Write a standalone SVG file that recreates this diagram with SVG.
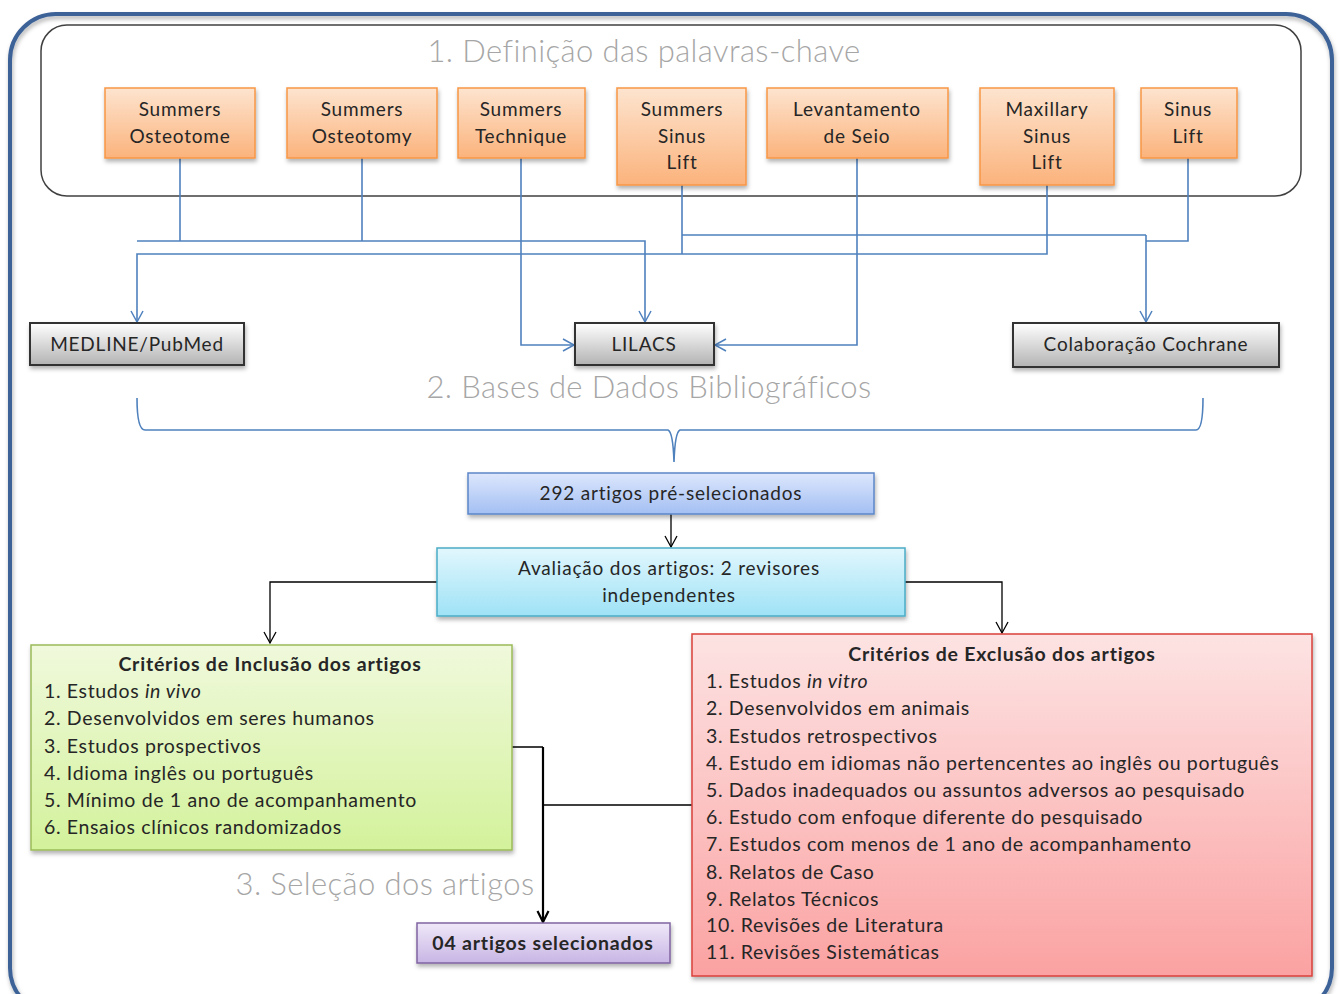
<svg xmlns="http://www.w3.org/2000/svg" width="1340" height="994" viewBox="0 0 1340 994">
<defs>
<linearGradient id="gOr" x1="0" y1="0" x2="0" y2="1"><stop offset="0" stop-color="#fde4cf"/><stop offset="1" stop-color="#fbb37c"/></linearGradient>
<linearGradient id="gGr" x1="0" y1="0" x2="0" y2="1"><stop offset="0" stop-color="#ffffff"/><stop offset="1" stop-color="#b3b3b3"/></linearGradient>
<linearGradient id="gBl" x1="0" y1="0" x2="0" y2="1"><stop offset="0" stop-color="#dde7fc"/><stop offset="1" stop-color="#a3bff3"/></linearGradient>
<linearGradient id="gCy" x1="0" y1="0" x2="0" y2="1"><stop offset="0" stop-color="#e2f7fd"/><stop offset="1" stop-color="#9ee2f6"/></linearGradient>
<linearGradient id="gGn" x1="0" y1="0" x2="0" y2="1"><stop offset="0" stop-color="#f0f9dc"/><stop offset="1" stop-color="#d3f29b"/></linearGradient>
<linearGradient id="gRd" x1="0" y1="0" x2="0" y2="1"><stop offset="0" stop-color="#fde3e3"/><stop offset="1" stop-color="#fba2a2"/></linearGradient>
<linearGradient id="gPu" x1="0" y1="0" x2="0" y2="1"><stop offset="0" stop-color="#efe8f8"/><stop offset="1" stop-color="#c8b5e4"/></linearGradient>
<filter id="sh" x="-10%" y="-10%" width="130%" height="140%"><feDropShadow dx="1" dy="3" stdDeviation="2" flood-color="#000" flood-opacity="0.3"/></filter>
<marker id="aB" markerWidth="14" markerHeight="14" refX="12" refY="7" orient="auto" markerUnits="userSpaceOnUse"><path d="M1,1 L12,7 L1,13" fill="none" stroke="#4f81bd" stroke-width="1.5"/></marker>
<marker id="aK" markerWidth="14" markerHeight="14" refX="12" refY="7" orient="auto" markerUnits="userSpaceOnUse"><path d="M1,1 L12,7 L1,13" fill="none" stroke="#000" stroke-width="1.3"/></marker>
<marker id="aKb" markerWidth="14" markerHeight="14" refX="12" refY="7" orient="auto" markerUnits="userSpaceOnUse"><path d="M1,1.5 L12,7 L1,12.5" fill="none" stroke="#000" stroke-width="2.2"/></marker>
</defs>
<style>
text{font-family:Lato,"Open Sans","Liberation Sans",sans-serif;fill:#262626}
.t{font-size:19px;text-anchor:middle;letter-spacing:0.8px}
.h{font-size:31px;fill:#a6a6a6;text-anchor:middle;font-weight:300;letter-spacing:0.4px}
.b{font-size:19.5px;letter-spacing:0.65px}
.bt{font-size:19.5px;font-weight:bold;text-anchor:middle;letter-spacing:0.8px}
.or{fill:url(#gOr);stroke:#f79646;stroke-width:1.5}
.gr{fill:url(#gGr);stroke:#333;stroke-width:2}
.cb{fill:none;stroke:#4f81bd;stroke-width:1.6}
.ck{fill:none;stroke:#000;stroke-width:1.3}
</style>
<rect width="1340" height="994" fill="#fff"/>
<rect x="10" y="14" width="1322" height="1000" rx="46" fill="none" stroke="#3d6298" stroke-width="4" filter="url(#sh)"/>
<rect x="41" y="25" width="1260" height="171" rx="26" fill="none" stroke="#404040" stroke-width="1.5"/>
<text class="h" x="644" y="62">1. Definição das palavras-chave</text>
<text class="h" x="649" y="398">2. Bases de Dados Bibliográficos</text>
<text class="h" x="385" y="895">3. Seleção dos artigos</text>

<g id="connectors">
<path class="cb" d="M180,158 V241 M362,158 V241 M137,241 H645 V322" marker-end="url(#aB)"/>
<path class="cb" d="M682,185 V254 M1047,185 V254 H137 V322" marker-end="url(#aB)"/>
<path class="cb" d="M682,235 H1146 M1188,158 V241 H1146 M1146,235 V322" marker-end="url(#aB)"/>
<path class="cb" d="M521,158 V345 H574" marker-end="url(#aB)"/>
<path class="cb" d="M857,158 V345 H715" marker-end="url(#aB)"/>
<path class="cb" d="M137,398 Q137,430 145,430 H668 Q673,432 674,462 Q675,432 680,430 H1196 Q1203,430 1203,398"/>
<path class="ck" d="M671,514 V547" marker-end="url(#aK)"/>
<path class="ck" d="M437,582 H270 V643" marker-end="url(#aK)"/>
<path class="ck" d="M905,582 H1002 V633" marker-end="url(#aK)"/>
<path class="ck" d="M512,747 H543 M692,805 H543" />
<path d="M543,747 V922" fill="none" stroke="#000" stroke-width="2.2" marker-end="url(#aKb)"/>
</g>

<g id="n1"><rect class="or" x="105" y="88" width="150" height="70" filter="url(#sh)"/><text class="t" x="180" y="116">Summers</text><text class="t" x="180" y="143">Osteotome</text></g>
<g id="n2"><rect class="or" x="287" y="88" width="150" height="70" filter="url(#sh)"/><text class="t" x="362" y="116">Summers</text><text class="t" x="362" y="143">Osteotomy</text></g>
<g id="n3"><rect class="or" x="458" y="88" width="127" height="70" filter="url(#sh)"/><text class="t" x="521" y="116">Summers</text><text class="t" x="521" y="143">Technique</text></g>
<g id="n4"><rect class="or" x="617" y="88" width="129" height="97" filter="url(#sh)"/><text class="t" x="682" y="116">Summers</text><text class="t" x="682" y="143">Sinus</text><text class="t" x="682" y="169">Lift</text></g>
<g id="n5"><rect class="or" x="767" y="88" width="181" height="70" filter="url(#sh)"/><text class="t" x="857" y="116">Levantamento</text><text class="t" x="857" y="143">de Seio</text></g>
<g id="n6"><rect class="or" x="980" y="88" width="134" height="97" filter="url(#sh)"/><text class="t" x="1047" y="116">Maxillary</text><text class="t" x="1047" y="143">Sinus</text><text class="t" x="1047" y="169">Lift</text></g>
<g id="n7"><rect class="or" x="1141" y="88" width="96" height="70" filter="url(#sh)"/><text class="t" x="1188" y="116">Sinus</text><text class="t" x="1188" y="143">Lift</text></g>

<g id="medline"><rect class="gr" x="30" y="323" width="214" height="42" filter="url(#sh)"/><text class="t" x="137" y="351">MEDLINE/PubMed</text></g>
<g id="lilacs"><rect class="gr" x="575" y="323" width="139" height="42" filter="url(#sh)"/><text class="t" x="644" y="351">LILACS</text></g>
<g id="cochrane"><rect class="gr" x="1013" y="323" width="266" height="44" filter="url(#sh)"/><text class="t" x="1146" y="351">Colaboração Cochrane</text></g>

<g id="pre"><rect x="468" y="473" width="406" height="41" fill="url(#gBl)" stroke="#5b86c8" stroke-width="1.5" filter="url(#sh)"/><text class="t" x="671" y="500">292 artigos pré-selecionados</text></g>
<g id="aval"><rect x="437" y="548" width="468" height="68" fill="url(#gCy)" stroke="#4bacc6" stroke-width="1.5" filter="url(#sh)"/><text class="t" x="669" y="575">Avaliação dos artigos: 2 revisores</text><text class="t" x="669" y="602">independentes</text></g>

<g id="incl"><rect x="31" y="645" width="481" height="205" fill="url(#gGn)" stroke="#9bbb59" stroke-width="1.5" filter="url(#sh)"/>
<text class="bt" x="270" y="671">Critérios de Inclusão dos artigos</text>
<text class="b" x="44" y="698">1. Estudos <tspan font-style="italic">in vivo</tspan></text>
<text class="b" x="44" y="725">2. Desenvolvidos em seres humanos</text>
<text class="b" x="44" y="753">3. Estudos prospectivos</text>
<text class="b" x="44" y="780">4. Idioma inglês ou português</text>
<text class="b" x="44" y="807">5. Mínimo de 1 ano de acompanhamento</text>
<text class="b" x="44" y="834">6. Ensaios clínicos randomizados</text>
</g>

<g id="excl"><rect x="692" y="634" width="620" height="342" fill="url(#gRd)" stroke="#d9413b" stroke-width="1.5" filter="url(#sh)"/>
<text class="bt" x="1002" y="661">Critérios de Exclusão dos artigos</text>
<text class="b" x="706" y="688">1. Estudos <tspan font-style="italic">in vitro</tspan></text>
<text class="b" x="706" y="715">2. Desenvolvidos em animais</text>
<text class="b" x="706" y="743">3. Estudos retrospectivos</text>
<text class="b" x="706" y="770">4. Estudo em idiomas não pertencentes ao inglês ou português</text>
<text class="b" x="706" y="797">5. Dados inadequados ou assuntos adversos ao pesquisado</text>
<text class="b" x="706" y="824">6.  Estudo com enfoque diferente do pesquisado</text>
<text class="b" x="706" y="851">7. Estudos com menos de 1 ano de acompanhamento</text>
<text class="b" x="706" y="879">8. Relatos de Caso</text>
<text class="b" x="706" y="906">9. Relatos Técnicos</text>
<text class="b" x="706" y="932">10. Revisões de Literatura</text>
<text class="b" x="706" y="959">11. Revisões Sistemáticas</text>
</g>

<g id="sel"><rect x="417" y="923" width="253" height="40" fill="url(#gPu)" stroke="#8064a2" stroke-width="1.5" filter="url(#sh)"/><text class="bt" x="543" y="950">04 artigos selecionados</text></g>
</svg>
